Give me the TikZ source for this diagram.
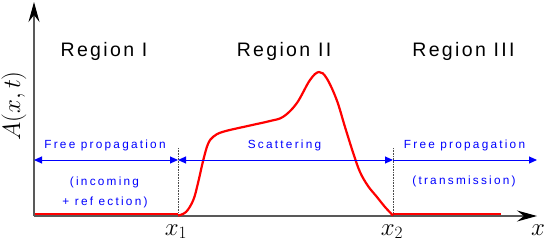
\documentclass[tikz,border=0pt]{standalone}
\usepackage{fontspec}
\newfontfamily\regfont[LetterSpace=12]{Liberation Sans}
\newfontfamily\bluefont[LetterSpace=19]{Liberation Sans}
\usetikzlibrary{arrows.meta}
\begin{document}
\begin{tikzpicture}[x=1pt,y=-1pt,
  region/.style={font=\regfont\fontsize{19.5}{24}\selectfont, inner sep=0pt, anchor=base},
  bluelbl/.style={font=\bluefont\fontsize{11.8}{14}\selectfont, text=blue, inner sep=0pt, anchor=base},
  mathlbl/.style={font=\fontsize{25}{30}\selectfont, inner sep=0pt, anchor=base},
  axis/.style={draw=black!65, line width=1.3pt, -{Stealth[length=20pt,width=11pt,inset=7pt,black]}},
  barrow/.style={blue, line width=1pt},
  bluetip/.tip={Triangle[length=8pt,width=7pt]},
  guide/.style={black!70, densely dotted, line width=0.6pt},
  wave/.style={red, line width=2.2pt},
  flat/.style={red, line width=4pt},
  ]
\useasboundingbox (0,0) rectangle (545,243);
% key points
\coordinate (O) at (34,216);
\coordinate (ytop) at (34,2);
\coordinate (xend) at (537,216);
\coordinate (p1) at (178,216);
\coordinate (p2) at (393,216);
\coordinate (d1) at (178,148);
\coordinate (d2) at (393,148);
\coordinate (a0) at (34,160);
\coordinate (a1) at (178,160);
\coordinate (a2) at (393,160);
\coordinate (a3) at (537,160);
\coordinate (r0) at (34,215);
\coordinate (r1) at (178,215);
\coordinate (r2) at (393,215);
\coordinate (r3) at (501,215);
% red flat parts
\draw[flat] (r0) -- (r1);
\draw[flat] (r2) -- (r3);
% axes
\draw[axis] (O) -- (ytop);
\draw[axis] (O) -- (xend);
% dotted guides
\draw[guide] (d1) -- (p1);
\draw[guide] (d2) -- (p2);
% red wave
\draw[wave] plot[smooth, tension=0.6] coordinates {
  (178,215.5) (186,212) (193.3,200) (198,183) (203.3,160) (208,144) (213.3,136.7) (223.3,131.7)
  (250,125.5) (270,121) (283.3,116.7) (296.7,103.3) (310,80) (319,72) (326.7,78.3)
  (336.7,100) (345,127) (353.3,153.3) (360,172) (368,186) (376.7,196.7) (385,207) (393,215.5)};
% blue arrows
\draw[barrow, bluetip-bluetip] (a0) -- (a1);
\draw[barrow, bluetip-bluetip] (a1) -- (a2);
\draw[barrow, -bluetip] (a2) -- (a3);
% region labels
\node[region] (reg1) at (104,57) {Region I};
\node[region] (reg2) at (284,57) {Region II};
\node[region] (reg3) at (463.5,57) {Region III};
% blue labels
\node[bluelbl] (fp1) at (105,148) {Free propagation};
\node[bluelbl] (inc) at (104.5,185) {(incoming};
\node[bluelbl] (refl) at (105,205) {+ ref ection)};
\node[bluelbl] (scat) at (284.5,148) {Scattering};
\node[bluelbl] (fp3) at (464.5,148) {Free propagation};
\node[bluelbl] (trans) at (464,184) {(transmission)};
% axis labels
\node[mathlbl] (lx1) at (176,235) {$x_1$};
\node[mathlbl] (lx2) at (392,235) {$x_2$};
\node[mathlbl] (lx) at (538,235) {$x$};
\node[font=\fontsize{25}{30}\selectfont, rotate=90, inner sep=0pt] (ly) at (14,106) {$A(x,t)$};
\end{tikzpicture}
\end{document}
